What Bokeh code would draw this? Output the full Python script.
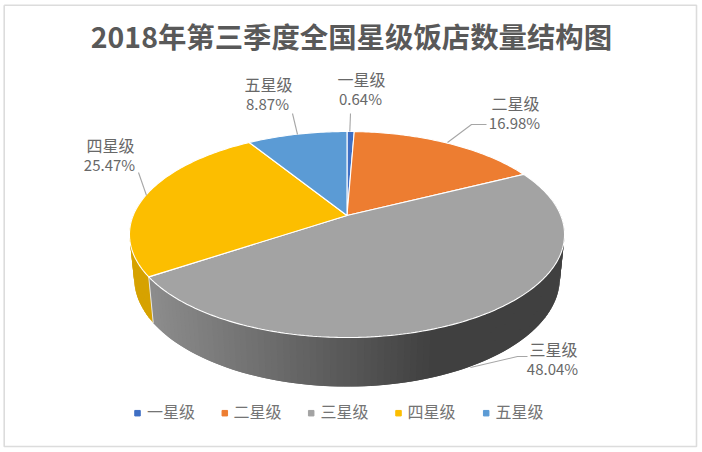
import numpy as np
from bokeh.plotting import figure
from bokeh.models import Range1d
from bokeh.core.properties import value
from bokeh.embed import file_html
from bokeh.resources import INLINE

# ---- data ----
title_text = "2018年第三季度全国星级饭店数量结构图"
categories = ["一星级", "二星级", "三星级", "四星级", "五星级"]
shares = [0.64, 16.98, 48.04, 25.47, 8.87]
colors = ["#3F6FC4", "#ED7D31", "#A3A3A3", "#FCBE00", "#5B9BD5"]
side_colors = ["#2F5597", "#B85F24", None, "#D6A200", "#44759F"]

# ---- layout ----
W, H = 702, 452
FONT = "Noto Sans CJK SC"
CX, CY = 346.5, 215.0
A, B, K = 213.8, 99.5, 0.1844      # perspective of the pie's top plane
M, D = 0.021, 43.6                 # perspective / depth of the lower plane
TEXT = "#686868"


def project(theta_deg, z=0.0):
    t = np.radians(theta_deg)
    x, y = np.sin(t), np.cos(t)
    w = 1 + K * y + M * z
    return CX + A * x / w, CY + (-B * y + D * z) / w


def gray_for(u):
    f = np.clip((u - 150.0) / (430.0 - 150.0), 0, 1)
    g = int(round(0x8C + (0x40 - 0x8C) * f))
    return f"#{g:02x}{g:02x}{g:02x}"


p = figure(width=W, height=H, output_backend="svg", toolbar_location=None,
           x_range=Range1d(0, W), y_range=Range1d(H, 0), min_border=0,
           outline_line_color=None,
           background_fill_color="white", border_fill_color="white")
p.axis.visible = False
p.grid.visible = False

# chart frame
p.line([3.7, 696, 696, 3.7, 3.7], [4.8, 4.8, 446, 446, 4.8],
       line_color="#dcdcdc", line_width=1.6)

edges = np.concatenate([[0.0], np.cumsum(shares)]) / sum(shares) * 360.0

# side wall: overlapping strips, each painted over the end of the one before
xs, ys, cs = [], [], []
for i, cat in enumerate(categories):
    a0, a1 = edges[i], edges[i + 1]
    lo, hi = max(a0, 80.0), min(a1, 285.0)
    if hi <= lo:
        continue
    n = max(2, int((hi - lo) / 1.5))
    t = np.linspace(lo, hi, n + 1)
    step = t[1] - t[0]
    for j in range(n):
        t0, t1 = t[j], min(t[j + 1] + step, hi)
        ux0, vy0 = project(t0, 0)
        ux1, vy1 = project(t1, 0)
        lx0, ly0 = project(t0, 1)
        lx1, ly1 = project(t1, 1)
        xs.append([ux0, ux1, lx1, lx0])
        ys.append([vy0, vy1, ly1, ly0])
        cs.append(side_colors[i] or gray_for((ux0 + ux1) / 2))
p.patches(xs, ys, fill_color=cs, line_color=None)

# pale seam on the wall between the two visible slices
bx0, by0 = project(edges[3], 0)
bx1, by1 = project(edges[3], 1)
p.line([bx0, bx1], [by0, by1], line_color="#e6e6e6", line_width=1)

# top face
for i, cat in enumerate(categories):
    t = np.linspace(edges[i], edges[i + 1], max(3, int(shares[i] * 4)))
    u, v = project(t, 0)
    p.patch(np.r_[CX, u], np.r_[CY, v], fill_color=colors[i],
            line_color="white", line_width=1.1)

# leader lines
leaders = [
    ([350, 349.3], [113, 131]),
    ([486, 471, 447], [124, 124, 142]),
    ([527, 517, 470], [356, 356, 367]),
    ([138, 146], [172, 195]),
    ([292, 297], [113, 134]),
]
for lx, ly in leaders:
    p.line(lx, ly, line_color="#a6a6a6", line_width=1.1)

# data labels
label_pos = [(361, 78), (515, 102), (553, 348), (110, 144), (268, 83)]
for cat, s, (lx, ly) in zip(categories, shares, label_pos):
    p.text([lx], [ly], text=[cat], text_font=value(FONT), text_font_size="16px",
           text_color=TEXT, text_align="center", text_baseline="middle")
    p.text([lx - 1], [ly + 20], text=[f"{s:.2f}%"], text_font=value(FONT), text_font_size="15px",
           text_color=TEXT, text_align="center", text_baseline="middle")

# title
p.text([351], [34.5], text=[title_text], text_font=value(FONT), text_font_size="28.4px",
       text_font_style="bold", text_color="#595959", text_align="center", text_baseline="middle")

# legend
legend_marker_x = [137, 224.3, 310.7, 398, 485.7]
legend_text_x = [146.5, 233, 320, 407, 495]
p.scatter(legend_marker_x, [412.7] * 5, marker="square", size=5.5, fill_color=colors, line_color=colors)
p.text(legend_text_x, [410.5] * 5, text=categories, text_font=value(FONT), text_font_size="16px",
       text_color="#747474", text_align="left", text_baseline="middle")

open("out.html", "w").write(file_html(p, INLINE))
